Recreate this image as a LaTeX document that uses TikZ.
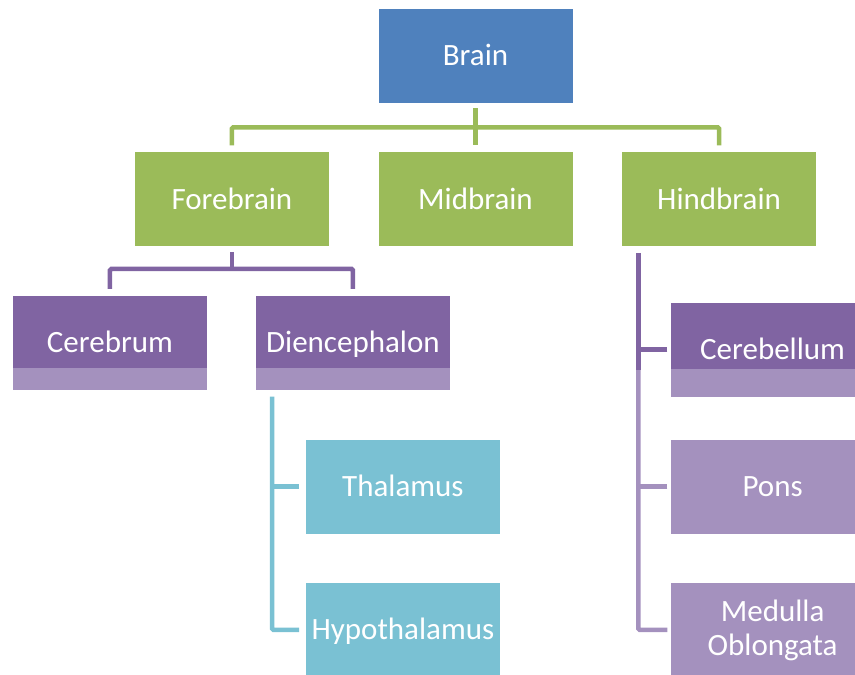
\documentclass[tikz,border=0pt]{standalone}
\usepackage{fontspec}
\setmainfont{Carlito}
\usepackage{xcolor}
\usetikzlibrary{positioning}

\definecolor{brainblue}{HTML}{4F81BD}
\definecolor{leafgreen}{HTML}{9BBB59}
\definecolor{darkpurple}{HTML}{8064A2}
\definecolor{lightpurple}{HTML}{A491BE}
\definecolor{tealblue}{HTML}{7AC1D3}

\tikzset{
  box/.style={rectangle, minimum width=195pt, minimum height=95pt, inner sep=0pt,
    draw=white, line width=0.6pt, text=white, align=center,
    text height=20pt, text depth=0pt,
    font=\fontsize{31}{34}\selectfont},
  topbox/.style={box, fill=brainblue},
  greenbox/.style={box, fill=leafgreen},
  purplebox/.style={box, fill=darkpurple},
  palebox/.style={box, fill=lightpurple},
  tealbox/.style={box, fill=tealblue},
  strip/.style={path picture={\fill[lightpurple] (path picture bounding box.south west)
    rectangle ([yshift=#1]path picture bounding box.south east);}},
  link/.style={line width=4.6pt, rounded corners=1.5pt},
}

\begin{document}
\begin{tikzpicture}[x=1pt, y=1pt, node distance=48pt]
\useasboundingbox (0,0) rectangle (855,-675);

\node[topbox] (brain) at (475.5,-55.5) {Brain};
\node[greenbox, below=of brain] (mid) {Midbrain};
\node[greenbox, left=of mid] (fore) {Forebrain};
\node[greenbox, right=of mid] (hind) {Hindbrain};

\node[purplebox, strip=22pt, below=of fore, xshift=-122pt] (cereb) {Cerebrum};
\node[purplebox, strip=22pt, below=of fore, xshift=121pt] (dien) {Diencephalon};
\node[tealbox, below=of dien, xshift=50pt] (thal) {Thalamus};
\node[tealbox, below=of thal] (hypo) {Hypothalamus};

\node[purplebox, strip=28pt, minimum width=204pt, below=55pt of hind, xshift=53.5pt] (cerebl) {Cerebellum};
\node[palebox, minimum width=204pt, below=41pt of cerebl] (pons) {Pons};
\node[palebox, minimum width=204pt, text height=, text depth=, below=of pons] (medulla) {Medulla\\Oblongata};

% brain -> parts
\draw[link, leafgreen] ([yshift=-5pt]brain.south) -- ([yshift=6pt]mid.north);
\draw[link, leafgreen] ([yshift=6pt]fore.north) -- ++(0,18pt) -| ([yshift=6pt]hind.north);

% forebrain
\draw[link, darkpurple] ([yshift=-5pt]fore.south) -- ++(0,-17pt);
\draw[link, darkpurple] ([yshift=6pt]cereb.north) -- ++(0,20pt) -| ([yshift=6pt]dien.north);

% diencephalon
\draw[link, tealblue] ([xshift=17pt,yshift=-6pt]dien.south west) |- ([xshift=-6pt]hypo.west);
\draw[link, tealblue] ([xshift=-6pt]thal.west) -- ++(-27pt,0);

% hindbrain
\coordinate (split) at ([xshift=17pt,yshift=28pt]hind.south west |- cerebl.south);
\draw[link, lightpurple] (split) |- ([xshift=-3pt]medulla.west);
\draw[link, lightpurple] ([xshift=-3pt]pons.west) -- ++(-29pt,0);
\draw[link, darkpurple] ([xshift=17pt,yshift=-6pt]hind.south west) -- (split);
\draw[link, darkpurple] ([xshift=-3pt]cerebl.west) -- ++(-29pt,0);
\end{tikzpicture}
\end{document}
